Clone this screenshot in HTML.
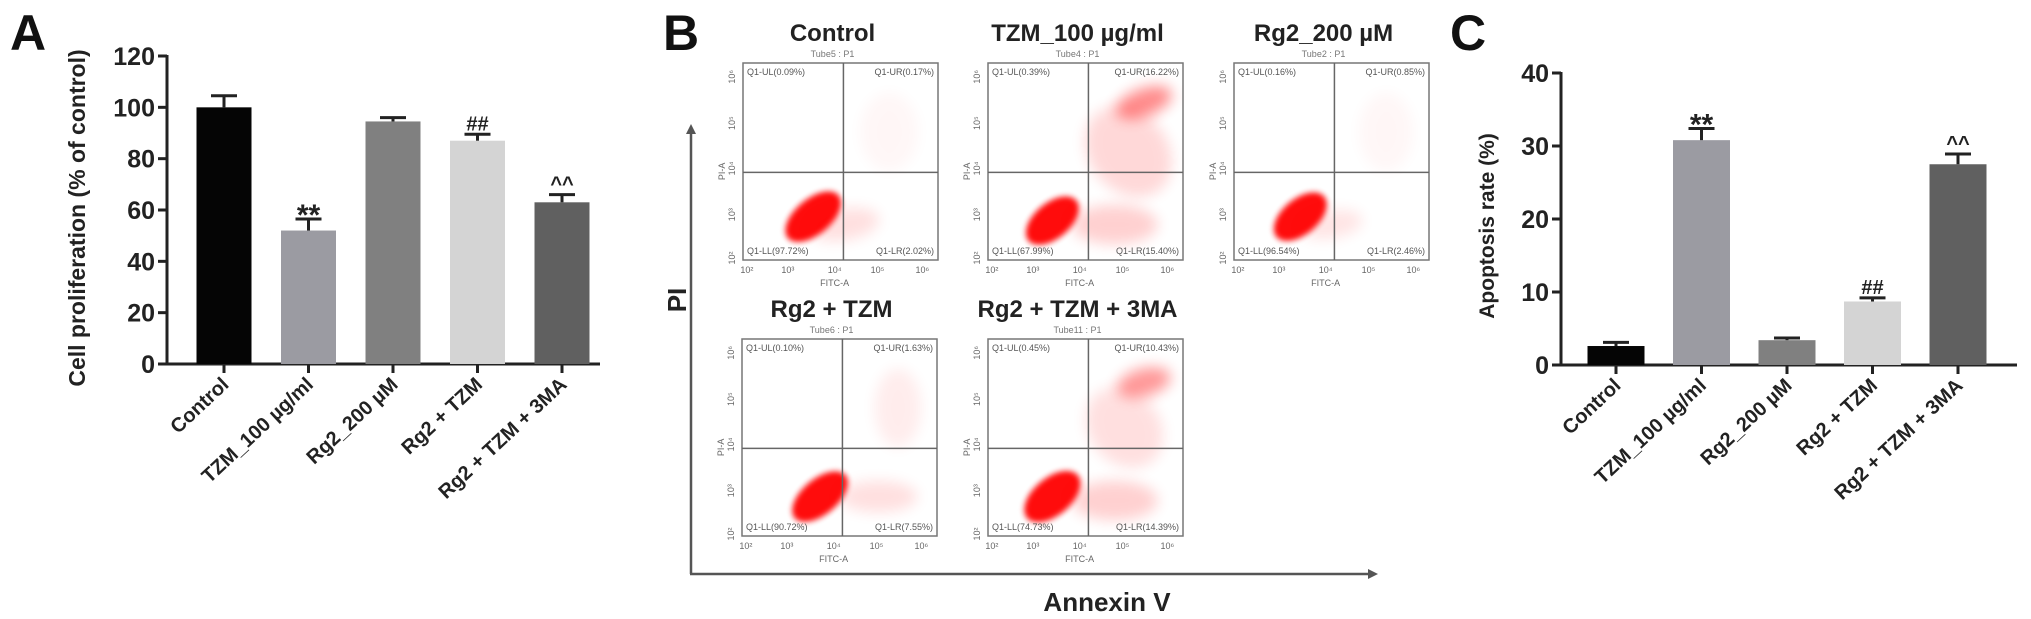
<!DOCTYPE html>
<html><head><meta charset="utf-8"><style>
html,body{margin:0;padding:0;background:#fff;}
svg{display:block;font-family:"Liberation Sans",Arial,sans-serif;}
</style></head><body>
<svg id="fig" width="2031" height="619" viewBox="0 0 2031 619" xmlns="http://www.w3.org/2000/svg">
<defs>
<filter id="blur2" x="-50%" y="-50%" width="200%" height="200%"><feGaussianBlur stdDeviation="3"/></filter>
<filter id="blur6" x="-50%" y="-50%" width="200%" height="200%"><feGaussianBlur stdDeviation="7"/></filter>
</defs>
<g id="panelA"></g>
<g id="panelB"></g>
<g id="panelC"></g>
</svg>
<script>
const catsA = ["Control","TZM_100 µg/ml","Rg2_200 µM","Rg2 + TZM","Rg2 + TZM + 3MA"];
const valsA = [100, 52, 94.5, 87, 63];
const errA = [4.5, 4.5, 1.5, 2.5, 3];
const annotA = ["", "**", "", "##", "^^"];
const ticksA = [0, 20, 40, 60, 80, 100, 120];

const catsC = ["Control","TZM_100 µg/ml","Rg2_200 µM","Rg2 + TZM","Rg2 + TZM + 3MA"];
const valsC = [2.6, 30.8, 3.4, 8.7, 27.5];
const errC = [0.5, 1.6, 0.3, 0.5, 1.4];
const annotC = ["", "**", "", "##", "^^"];
const ticksC = [0, 10, 20, 30, 40];

const flowTitles = ["Control","TZM_100 µg/ml","Rg2_200 µM","Rg2 + TZM","Rg2 + TZM + 3MA"];
const flowTubes = ["Tube5 : P1","Tube4 : P1","Tube2 : P1","Tube6 : P1","Tube11 : P1"];
const flowUL = ["0.09%","0.39%","0.16%","0.10%","0.45%"];
const flowUR = ["0.17%","16.22%","0.85%","1.63%","10.43%"];
const flowLL = ["97.72%","67.99%","96.54%","90.72%","74.73%"];
const flowLR = ["2.02%","15.40%","2.46%","7.55%","14.39%"];

const NS = "http://www.w3.org/2000/svg";
const barColors = ["#050505","#9b9ba2","#808080","#d4d4d4","#606060"];
function mk(parent, tag, attrs, text){
  const e = document.createElementNS(NS, tag);
  for (const k in attrs) e.setAttribute(k, attrs[k]);
  if (text !== undefined) e.textContent = text;
  parent.appendChild(e);
  return e;
}

function barChart(g, o){
  const yScale = v => o.y0 - (v - o.min) / (o.max - o.min) * (o.y0 - o.yTop);
  const xScale = i => o.x0 + i * o.step;
  const L = mk(g,'text',{x:o.letterX,y:o.letterY,'font-size':50,'font-weight':'bold',fill:'#111'},o.letter);
  
  
  const ya = mk(g,'line',{x1:o.axX,y1:yScale(o.max)-1,x2:o.axX,y2:o.y0+1.5,stroke:'#222','stroke-width':3});
  
  
  const xa = mk(g,'line',{x1:o.axX-1.5,y1:o.y0,x2:o.axEnd,y2:o.y0,stroke:'#222','stroke-width':3});
  
  
  o.ticks.forEach(t=>{
    const y = yScale(t);
    mk(g,'line',{x1:o.axX-9,y1:y,x2:o.axX,y2:y,stroke:'#222','stroke-width':3});
    const tl = mk(g,'text',{x:o.axX-12,y:y+9,'font-size':25,'font-weight':'bold','text-anchor':'end',fill:'#222'},String(t));
    
    
  });
  const yt = mk(g,'text',{x:0,y:0,'font-size':o.titleSize,'font-weight':'bold','text-anchor':'middle',fill:'#222',transform:`translate(${o.titleX},${o.titleY}) rotate(-90)`},o.title);
  
  
  o.cats.forEach((c,i)=>{
    const cx = xScale(i);
    const top = yScale(o.vals[i]);
    const b = mk(g,'rect',{x:cx-o.bw/2,y:top,width:o.bw,height:o.y0-top,fill:barColors[i]});
    
    
    const et = yScale(o.vals[i]+o.errs[i]);
    mk(g,'line',{x1:cx,y1:top,x2:cx,y2:et,stroke:'#222','stroke-width':3});
    const cap = mk(g,'line',{x1:cx-13,y1:et,x2:cx+13,y2:et,stroke:'#222','stroke-width':3});
    
    
    mk(g,'line',{x1:cx,y1:o.y0,x2:cx,y2:o.y0+9,stroke:'#222','stroke-width':3});
    if (o.annot[i]){
      const a = mk(g,'text',{x:cx,y:et-4+(o.annot[i]==='**'?10:0),'font-size':o.annot[i]==='**'?30:20,'font-weight':'bold','text-anchor':'middle',fill:'#222'},o.annot[i]);
      
      
    }
    const lx = cx+6, ly = o.y0+22;
    const t = mk(g,'text',{x:0,y:0,'font-size':20,'font-weight':'bold','text-anchor':'end',fill:'#222',transform:`translate(${lx},${ly}) rotate(-43)`},c);
    
    
  });
}

barChart(document.getElementById('panelA'),{
  letter:'A',letterX:10,letterY:50,cats:catsA,vals:valsA,errs:errA,annot:annotA,ticks:ticksA,
  min:0,max:120,y0:364,yTop:56,axX:167,axEnd:600,x0:224,step:84.5,bw:55,
  title:'Cell proliferation (% of control)',titleX:85,titleY:218,titleSize:23
});
barChart(document.getElementById('panelC'),{
  letter:'C',letterX:1450,letterY:50,cats:catsC,vals:valsC,errs:errC,annot:annotC,ticks:ticksC,
  min:0,max:40,y0:365,yTop:73,axX:1561,axEnd:2017,x0:1616,step:85.5,bw:57,
  title:'Apoptosis rate (%)',titleX:1494,titleY:226,titleSize:21
});

(function(){
  const g = document.getElementById('panelB');
  const L = mk(g,'text',{x:663,y:50,'font-size':50,'font-weight':'bold',fill:'#111'},'B');
  
  
  const va = mk(g,'line',{x1:691,y1:132,x2:691,y2:574,stroke:'#555','stroke-width':2.5});
  
  
  mk(g,'path',{d:'M686,134 L691,124 L696,134 Z',fill:'#555'});
  const ha = mk(g,'line',{x1:690,y1:574,x2:1370,y2:574,stroke:'#555','stroke-width':2.5});
  
  
  mk(g,'path',{d:'M1368,569 L1378,574 L1368,579 Z',fill:'#555'});
  const pi = mk(g,'text',{x:0,y:0,'font-size':26,'font-weight':'bold','text-anchor':'middle',fill:'#222',transform:'translate(686,300) rotate(-90)'},'PI');
  
  
  const an = mk(g,'text',{x:1107,y:611,'font-size':26,'font-weight':'bold','text-anchor':'middle',fill:'#222'},'Annexin V');
  
  

  const boxes = [[743,63],[988,63],[1234,63],[742,339],[988,339]];
  const W=195, H=197;
  const clouds = [
    [[0.36,0.78,0.17,0.09,-40,0.95,'blur2'],[0.52,0.82,0.18,0.08,-10,0.12,'blur6'],[0.75,0.35,0.15,0.2,0,0.03,'blur6']],
    [[0.33,0.80,0.16,0.09,-40,0.95,'blur2'],[0.80,0.20,0.15,0.07,-20,0.45,'blur6'],[0.72,0.45,0.2,0.25,-40,0.15,'blur6'],[0.65,0.82,0.22,0.1,0,0.18,'blur6']],
    [[0.34,0.78,0.16,0.09,-40,0.95,'blur2'],[0.50,0.82,0.16,0.07,-10,0.1,'blur6'],[0.78,0.35,0.14,0.2,0,0.03,'blur6']],
    [[0.40,0.80,0.17,0.09,-40,0.95,'blur2'],[0.70,0.80,0.2,0.08,0,0.12,'blur6'],[0.80,0.35,0.12,0.2,0,0.07,'blur6']],
    [[0.33,0.80,0.17,0.095,-40,0.95,'blur2'],[0.80,0.22,0.14,0.07,-15,0.4,'blur6'],[0.70,0.45,0.18,0.22,-40,0.12,'blur6'],[0.65,0.82,0.22,0.1,0,0.18,'blur6']]
  ];
  const yT=[0.07,0.305,0.535,0.77,0.99], xT=[0.02,0.23,0.47,0.69,0.92];
  const ex=['10⁶','10⁵','10⁴','10³','10²'], exx=['10²','10³','10⁴','10⁵','10⁶'];
  boxes.forEach((b,i)=>{
    const [x,y]=b;
    const pg = mk(g,'g',{});
    
    
    const t = mk(pg,'text',{x:x+W/2-8,y:y-22,'font-size':24,'font-weight':'bold','text-anchor':'middle',fill:'#222'},flowTitles[i]);
    
    
    mk(pg,'text',{x:x+W/2-8,y:y-6,'font-size':9,'text-anchor':'middle',fill:'#777'},flowTubes[i]);
    clouds[i].forEach(c=>{
      mk(pg,'ellipse',{cx:x+c[0]*W,cy:y+c[1]*H,rx:c[2]*W,ry:c[3]*H,fill:'#f00',opacity:c[5],filter:`url(#${c[6]})`,transform:`rotate(${c[4]} ${x+c[0]*W} ${y+c[1]*H})`});
    });
    mk(pg,'rect',{x:x,y:y,width:W,height:H,fill:'none',stroke:'#777','stroke-width':1.5});
    const qx = x+0.515*W, qy = y+0.555*H;
    mk(pg,'line',{x1:qx,y1:y,x2:qx,y2:y+H,stroke:'#666','stroke-width':1.5});
    mk(pg,'line',{x1:x,y1:qy,x2:x+W,y2:qy,stroke:'#666','stroke-width':1.5});
    mk(pg,'text',{x:x+4,y:y+12,'font-size':9,fill:'#555'},'Q1-UL('+flowUL[i]+')');
    mk(pg,'text',{x:x+W-4,y:y+12,'font-size':9,fill:'#555','text-anchor':'end'},'Q1-UR('+flowUR[i]+')');
    mk(pg,'text',{x:x+4,y:y+H-6,'font-size':9,fill:'#555'},'Q1-LL('+flowLL[i]+')');
    mk(pg,'text',{x:x+W-4,y:y+H-6,'font-size':9,fill:'#555','text-anchor':'end'},'Q1-LR('+flowLR[i]+')');
    yT.forEach((f,k)=>{
      mk(pg,'text',{x:0,y:0,'font-size':9,fill:'#666','text-anchor':'middle',transform:`translate(${x-8},${y+f*H}) rotate(-90)`},ex[k]);
    });
    mk(pg,'text',{x:0,y:0,'font-size':9,fill:'#666','text-anchor':'middle',transform:`translate(${x-18},${y+0.55*H}) rotate(-90)`},'PI-A');
    xT.forEach((f,k)=>{
      mk(pg,'text',{x:x+f*W,y:y+H+13,'font-size':9,fill:'#666','text-anchor':'middle'},exx[k]);
    });
    mk(pg,'text',{x:x+0.47*W,y:y+H+26,'font-size':9,fill:'#666','text-anchor':'middle'},'FITC-A');
  });
})();
</script>
</body></html>
